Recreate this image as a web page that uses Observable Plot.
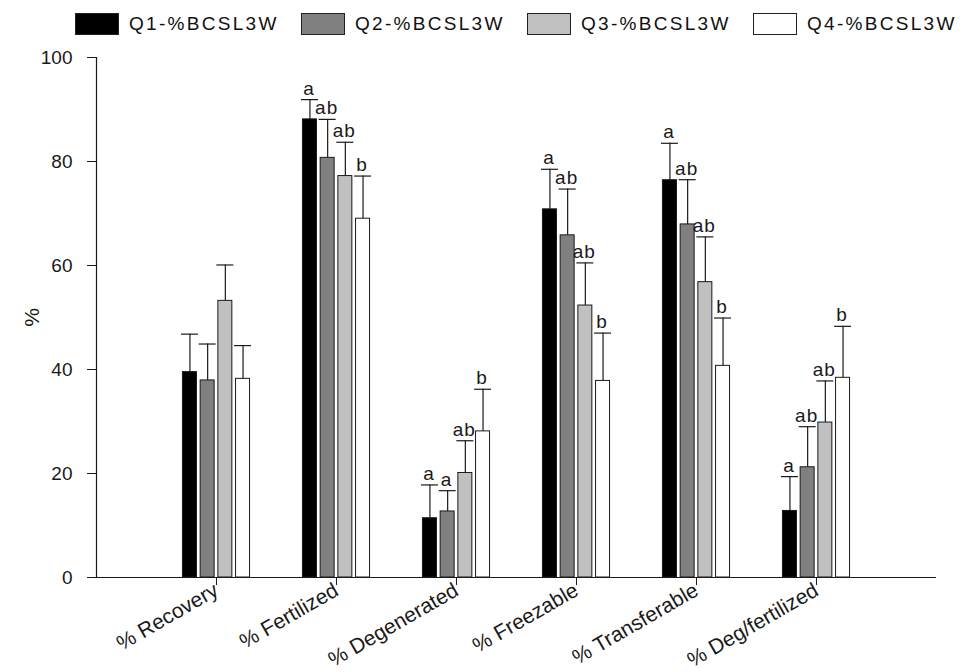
<!DOCTYPE html>
<html>
<head>
<meta charset="utf-8">
<script src="https://cdn.jsdelivr.net/npm/d3@7"></script>
<script src="https://cdn.jsdelivr.net/npm/@observablehq/plot@0.6"></script>
<style>
  html, body { margin: 0; padding: 0; background: #fff; }
  #chart { width: 970px; height: 672px; position: relative; font-family: "Liberation Sans", Arial, sans-serif; color: #111; }
  .legend { height: 45px; position: relative; }
  .legend .item { position: absolute; top: 12px; display: flex; align-items: center; height: 23px; }
  .legend .swatch { width: 44px; height: 22px; border: 1px solid #222; box-sizing: border-box; }
  .legend .label { margin-left: 10px; font-size: 19px; letter-spacing: 2.3px; line-height: 23px; }
  svg { display: block; }
  svg [aria-label="x-axis tick label"] { font-size: 21px; }
  svg [aria-label="y-axis label"] { font-size: 21px; }
  svg [aria-label="text"] { letter-spacing: 1px; }
</style>
</head>
<body>
<div id="chart">
  <div class="legend" id="legend"></div>
</div>
<script>
// Outcome categories along the x axis
const categories = ["% Recovery", "% Fertilized", "% Degenerated", "% Freezable", "% Transferable", "% Deg/fertilized"];

// Quartile groups
const series = ["Q1-%BCSL3W", "Q2-%BCSL3W", "Q3-%BCSL3W", "Q4-%BCSL3W"];

// Means (%) per quartile, in category order
const q1Mean = [39.5, 88.1, 11.4, 70.8, 76.4, 12.8];
const q2Mean = [37.9, 80.7, 12.7, 65.8, 67.9, 21.2];
const q3Mean = [53.2, 77.2, 20.1, 52.3, 56.8, 29.8];
const q4Mean = [38.2, 69.0, 28.1, 37.8, 40.7, 38.4];

// Standard errors (drawn upward only)
const q1Err = [7.3, 3.8, 6.4, 7.7, 7.1, 6.6];
const q2Err = [7.0, 7.4, 4.0, 8.9, 8.6, 7.8];
const q3Err = [6.9, 6.5, 6.2, 8.2, 8.7, 8.0];
const q4Err = [6.4, 8.2, 8.1, 9.2, 9.2, 9.9];

// Significance letters
const q1Letters = ["", "a", "a", "a", "a", "a"];
const q2Letters = ["", "ab", "a", "ab", "ab", "ab"];
const q3Letters = ["", "ab", "ab", "ab", "ab", "ab"];
const q4Letters = ["", "b", "b", "b", "b", "b"];

// Y axis ticks
const yTicks = [0, 20, 40, 60, 80, 100];

const means = [q1Mean, q2Mean, q3Mean, q4Mean];
const errs = [q1Err, q2Err, q3Err, q4Err];
const letters = [q1Letters, q2Letters, q3Letters, q4Letters];
const fills = ["#000000", "#808080", "#c0c0c0", "#ffffff"];

const rows = categories.flatMap((cat, j) => series.map((s, i) => ({
  cat, series: s, mean: means[i][j], upper: means[i][j] + errs[i][j], letter: letters[i][j]
})));

// Legend
const legend = document.getElementById("legend");
series.forEach((s, i) => {
  const item = document.createElement("div");
  item.className = "item";
  item.style.left = (75 + i * 226) + "px";
  const sw = document.createElement("div");
  sw.className = "swatch";
  sw.style.background = fills[i];
  const lb = document.createElement("span");
  lb.className = "label";
  lb.textContent = s;
  item.append(sw, lb);
  legend.append(item);
});

// Layout
const W = 970, H = 627;
const mL = 96, mR = 34, mT = 12, mB = 95;
const band = (W - mL - mR) / (categories.length + 1);
const barStep = 17.7, barW = 14, capW = 17;
const offsets = series.map((_, i) => (i - (series.length - 1) / 2) * barStep);
const half = band / 2;
const ink = "#1a1a1a";

const marks = [];
series.forEach((s, i) => {
  const sub = rows.filter(d => d.series === s);
  const o = offsets[i];
  marks.push(
    Plot.ruleX(sub, {x: "cat", y1: "mean", y2: "upper", dx: o, stroke: ink, strokeWidth: 1.2}),
    Plot.tickY(sub, {x: "cat", y: "upper", stroke: ink, strokeWidth: 1.2,
      insetLeft: half + o - capW / 2, insetRight: half - o - capW / 2}),
    Plot.barY(sub, {x: "cat", y: "mean", fill: fills[i], stroke: ink, strokeWidth: 1,
      insetLeft: half + o - barW / 2, insetRight: half - o - barW / 2}),
    Plot.text(sub, {x: "cat", y: "upper", text: "letter", dx: o - 1, dy: -5, lineAnchor: "bottom",
      fill: ink, fontSize: 19})
  );
});

const chart = Plot.plot({
  width: W, height: H,
  marginTop: mT, marginBottom: mB, marginLeft: mL, marginRight: mR,
  style: {fontFamily: "Liberation Sans, Arial, sans-serif", fontSize: "19px", color: ink, background: "#fff"},
  x: {type: "band", domain: categories, paddingInner: 0, paddingOuter: 0.5, label: null,
      tickSize: 8, tickRotate: -30, tickPadding: 3},
  y: {domain: [0, 100], ticks: yTicks, tickSize: 9, tickPadding: 15, label: "%",
      labelAnchor: "center", labelOffset: 72, labelArrow: "none"},
  marks: [
    ...marks,
    Plot.ruleY([0], {stroke: ink, strokeWidth: 1.2}),
    Plot.frame({anchor: "left", stroke: ink, strokeWidth: 1.2})
  ]
});
document.getElementById("chart").append(chart);
</script>
</body>
</html>
